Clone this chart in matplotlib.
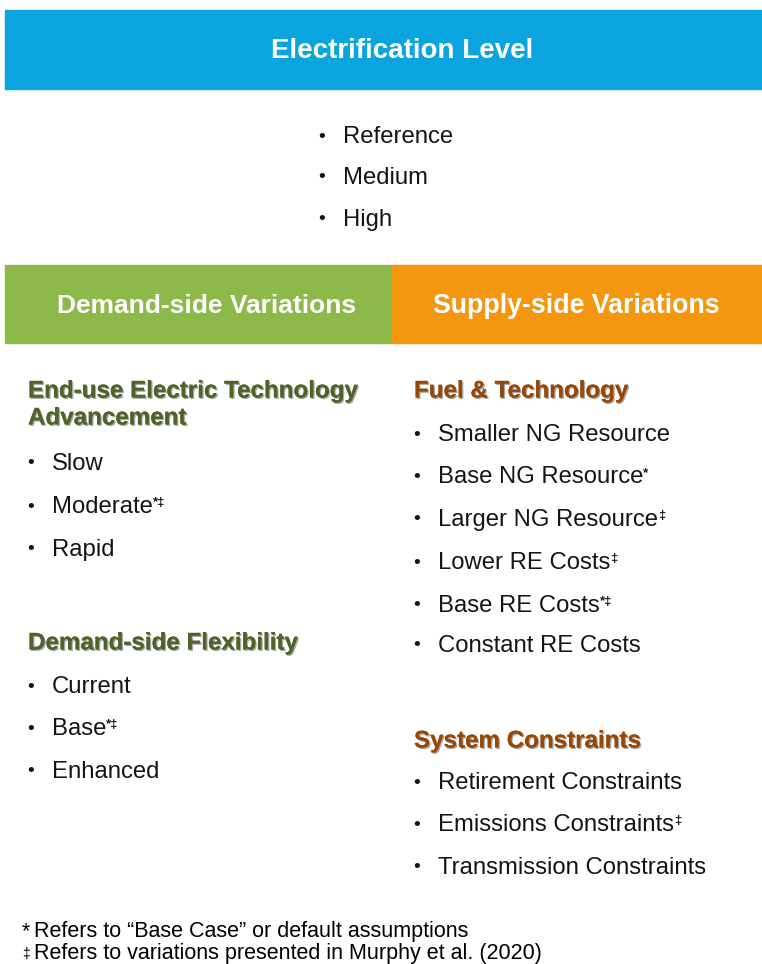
import matplotlib
matplotlib.use("Agg")
import matplotlib.pyplot as plt
import matplotlib.patheffects as pe
from matplotlib.patches import Rectangle

plt.rcParams['font.family'] = ['Liberation Sans', 'DejaVu Sans']

# ---- content ----
title = "Electrification Level"
levels = ["Reference", "Medium", "High"]

demand_title = "Demand-side Variations"
supply_title = "Supply-side Variations"

enduse_head = ["End-use Electric Technology", "Advancement"]
enduse_items = [("Slow", ""), ("Moderate", "*‡"), ("Rapid", "")]
flex_head = ["Demand-side Flexibility"]
flex_items = [("Current", ""), ("Base", "*‡"), ("Enhanced", "")]

fuel_head = ["Fuel & Technology"]
fuel_items = [("Smaller NG Resource", ""), ("Base NG Resource", "*"),
              ("Larger NG Resource", "‡"), ("Lower RE Costs", "‡"),
              ("Base RE Costs", "*‡"), ("Constant RE Costs", "")]
sys_head = ["System Constraints"]
sys_items = [("Retirement Constraints", ""), ("Emissions Constraints", "‡"),
             ("Transmission Constraints", "")]

footnote_marks = ["*", "\u2021"]
footnotes = ["Refers to \u201cBase Case\u201d or default assumptions",
             "Refers to variations presented in Murphy et al. (2020)"]

blue, green, orange = "#0AA4DF", "#8DB94B", "#F5960F"
dkgreen, brown = "#4F6228", "#974806"
ink = "#141414"

W, H = 762, 964
fig = plt.figure(figsize=(W / 100, H / 100), dpi=100)
ax = fig.add_axes([0, 0, 1, 1])
ax.set_xlim(0, W)
ax.set_ylim(H, 0)
ax.axis('off')

# banners
ax.add_patch(Rectangle((5, 10), W - 5, 79, color=blue))
ax.add_patch(Rectangle((5, 265), 387, 78, color=green))
ax.add_patch(Rectangle((392, 265), W - 392, 78, color=orange))

hdr = dict(color='white', fontweight='bold', ha='center', va='center')
ax.text(402, 51, title, fontsize=20, **hdr)
ax.text(207, 306, demand_title, fontsize=19, **hdr)
ax.text(576, 306, supply_title, fontsize=19.3, **hdr)

body = dict(fontsize=17.2, color=ink, va='center')
shadow = [pe.withSimplePatchShadow(offset=(1, -1), shadow_rgbFace='black', alpha=0.35), pe.Normal()]
dy = 2  # va='center' sits a touch high for these glyphs


def bullets(x, ys, items):
    for y, (label, sup) in zip(ys, items):
        ax.text(x - 21, y + dy, "\u2022", fontsize=14, color=ink, ha='center', va='center')
        t = ax.text(x, y + dy, label, **body)
        if sup:
            ax.annotate(sup, xy=(1.0, 0.95), xycoords=t, fontsize=9.5, color=ink,
                        va='top', ha='left', fontweight='bold')


def heading(x, ys, lines, c):
    for y, s in zip(ys, lines):
        ax.text(x, y + dy, s, fontsize=17.4, fontweight='bold', color=c, va='center',
                path_effects=shadow)


# top list
bullets(343, [135, 176, 218], [(s, "") for s in levels])

# left column
heading(28, [389, 416], enduse_head, dkgreen)
bullets(52, [462, 505, 548], enduse_items)
heading(28, [641], flex_head, dkgreen)
bullets(52, [685, 727, 770], flex_items)

# right column
heading(414, [389], fuel_head, brown)
bullets(438, [433, 475, 518, 561, 604, 644], fuel_items)
heading(414, [739], sys_head, brown)
bullets(438, [781, 823, 866], sys_items)

# footnotes
for y, m, s, fs in zip([930, 952], footnote_marks, footnotes, [15.5, 10]):
    ax.text(22, y + dy, m, fontsize=fs, color='black', va='center')
    ax.text(34, y + dy, s, fontsize=15.5, color='black', va='center')

fig.savefig("out.png", dpi=100)
